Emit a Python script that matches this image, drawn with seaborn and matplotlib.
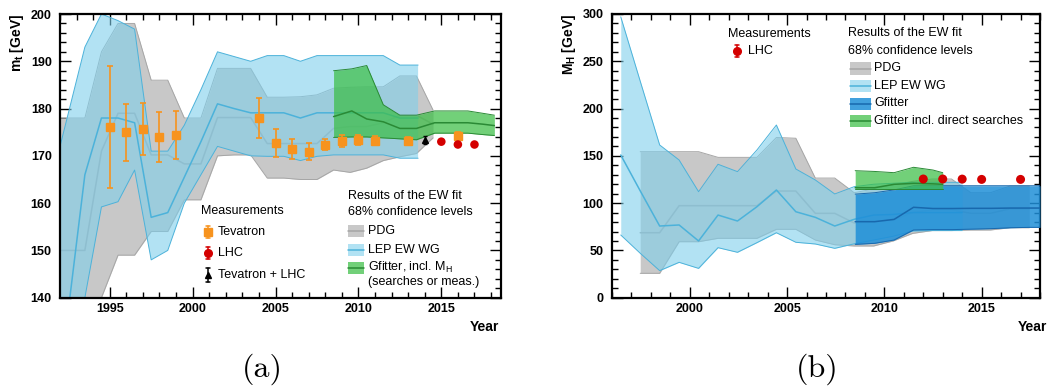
import matplotlib
matplotlib.use('Agg')
import matplotlib.pyplot as plt
from matplotlib.lines import Line2D
from matplotlib.patches import Rectangle
from matplotlib.ticker import MultipleLocator
import seaborn as sns

# ---------------- panel (a): top quark mass ----------------
pdg_t_year = [1992.0, 1993.5, 1994.5, 1995.5, 1996.5, 1997.5, 1998.5, 1999.5, 2000.5, 2001.5, 2002.5,
              2003.5, 2004.5, 2005.5, 2006.5, 2007.5, 2008.5, 2009.5, 2010.5, 2011.5, 2012.5, 2013.5, 2014.5]
pdg_t_hi = [178, 178, 192, 198, 198, 186, 186, 178, 178, 188.5, 188.5, 188.5, 182.4, 182.4, 182.5, 182.9,
            184.3, 184.5, 184.6, 184.6, 186.9, 186.9, 179.7]
pdg_t_mid = [150, 150, 171, 179, 179, 170.2, 170.2, 168.3, 168.3, 178.1, 178.1, 178.1, 172.6, 172.6, 172.6,
             172.6, 175.8, 176.2, 176.2, 177, 178.6, 178.6, 176.7]
pdg_t_lo = [120, 130, 140, 149, 149, 154, 154, 160.7, 160.7, 170, 170.2, 170.2, 165.3, 165.3, 165, 165,
            167, 166.5, 167.4, 169, 169.8, 170.5, 173.8]

lep_t_year = [1992.0, 1993.5, 1994.5, 1995.5, 1996.5, 1997.5, 1998.5, 1999.5, 2000.5, 2001.5, 2002.5,
              2003.5, 2004.5, 2005.5, 2006.5, 2007.5, 2008.5, 2009.5, 2010.5, 2011.5, 2012.5, 2013.6]
lep_t_hi = [172, 193, 200, 198.6, 196.8, 171, 171, 176.5, 184, 192, 191, 190, 191.2, 191.2, 190, 191.2,
            191.2, 191.2, 191.2, 191.2, 189.2, 189.2]
lep_t_mid = [123, 166, 178, 178, 177, 157, 158, 165.5, 173, 181, 180, 179.1, 179.1, 179.1, 178, 179.1,
             179.1, 179.1, 179.1, 179.1, 178, 178]
lep_t_lo = [110, 140, 159.2, 160.3, 167, 148, 150, 160, 166, 172, 171, 170, 169.9, 169.9, 169, 169.9,
            170.2, 170.2, 170.2, 170.2, 169.5, 169.5]

gf_t_year = [2008.5, 2009.6, 2010.5, 2011.5, 2012.5, 2013.5, 2014.6, 2015.6, 2016.6, 2017.5, 2018.2]
gf_t_hi = [188.0, 188.4, 189.1, 180.8, 178.6, 178.6, 179.5, 179.5, 179.5, 179.0, 178.6]
gf_t_mid = [178.3, 179.5, 177.8, 177.2, 175.8, 175.8, 177.0, 177.0, 177.0, 176.7, 176.4]
gf_t_lo = [173.9, 174.0, 174.0, 173.8, 173.6, 173.4, 174.8, 174.8, 174.8, 174.5, 174.3]

tev_year = [1995, 1996, 1997, 1998, 1999, 2004, 2005, 2006, 2007, 2008, 2009, 2010, 2011, 2013, 2016]
tev_mt = [176.0, 175.0, 175.6, 174.0, 174.4, 178.0, 172.7, 171.4, 170.9, 172.4, 173.1, 173.3, 173.2, 173.2, 174.3]
tev_err = [12.9, 6.0, 5.5, 5.2, 5.1, 4.3, 2.9, 2.1, 1.8, 1.2, 1.3, 1.1, 0.9, 0.87, 0.65]

lhc_t_year = [2015, 2016, 2017]
lhc_t_mt = [173.0, 172.4, 172.4]
lhc_t_err = [0.7, 0.5, 0.5]

comb_year = [2014]
comb_mt = [173.34]
comb_err = [0.76]

# ---------------- panel (b): Higgs mass ----------------
pdg_h_year = [1997.45, 1998.45, 1999.45, 2000.45, 2001.45, 2002.45, 2003.45, 2004.45, 2005.45, 2006.45,
              2007.45, 2008.45, 2009.45, 2010.45, 2011.45, 2012.45, 2013.45, 2014.45, 2015.45, 2016.45, 2017.45]
pdg_h_hi = [154.4, 154.4, 154.4, 154.4, 148.4, 148.4, 148.4, 169.4, 168.6, 126.5, 126.5, 111, 115, 119,
            123, 125.5, 125.5, 111, 111, 118, 118]
pdg_h_mid = [68.7, 68.7, 97.3, 97.3, 97.3, 97.3, 97.3, 112.8, 112.8, 89.2, 89.2, 79, 80, 82, 90, 93, 93,
             89.2, 89.2, 94, 94]
pdg_h_lo = [25.8, 25.8, 59.2, 59.2, 62.8, 62.8, 62.8, 72.3, 72.3, 61, 56, 54.7, 54.7, 60, 68, 71, 71,
            71.6, 71.6, 74, 74]

lep_h_year = [1996.45, 1997.45, 1998.45, 1999.45, 2000.45, 2001.45, 2002.45, 2003.45, 2004.45, 2005.45,
              2006.45, 2007.45, 2008.45, 2009.45, 2010.45, 2011.45, 2012.45, 2013.45, 2014.0]
lep_h_hi = [297, 229, 161.5, 145.6, 112.1, 141.1, 133.3, 156.2, 182.6, 136.1, 124.5, 109.7, 117.4, 120,
            121, 122, 122, 122, 122]
lep_h_mid = [150.9, 113, 75.8, 76.9, 60, 87.4, 81.1, 96.2, 113.9, 90.9, 85, 75.8, 82.9, 87.4, 88, 90,
             90, 90, 90]
lep_h_lo = [66.3, 47, 28.6, 37.4, 31, 52.9, 48, 58.2, 68.7, 58.6, 56.8, 52.2, 57, 61, 65, 70.5, 71, 71, 71]

gfit_h_year = [2008.5, 2009.5, 2010.5, 2011.5, 2012.5, 2013.5, 2014.5, 2015.5, 2016.5, 2017.5, 2018.0]
gfit_h_hi = [109.5, 111, 114, 118.4, 118.4, 118.4, 118.4, 118.4, 118.4, 118.4, 118.4]
gfit_h_mid = [80.4, 80.4, 82.8, 95.6, 94.3, 94.3, 94.5, 94.5, 94.8, 94.8, 94.8]
gfit_h_lo = [56.4, 57.5, 61, 71.6, 72, 72, 72.5, 73, 74, 74.4, 74.4]

srch_h_year = [2008.5, 2009.5, 2010.5, 2011.5, 2012.5, 2013.0]
srch_h_hi = [134.3, 133.5, 132.2, 137.9, 135.0, 132.2]
srch_h_mid = [116.3, 116.3, 119.9, 120.9, 120.4, 119.9]
srch_h_lo = [114.6, 114.6, 114.6, 114.6, 114.6, 114.6]

lhc_h_year = [2012, 2013, 2014, 2015, 2017]
lhc_h_mh = [125.5, 125.5, 125.4, 125.1, 125.1]

# colours
GRAY, GRAY_LN = '#c8c8c8', '#a6a6a6'
LEP, LEP_LN = '#7fcfeb', '#4cb2da'
GRN, GRN_LN = '#3cbe46', '#2a8a35'
GF, GF_LN = '#1f8fd8', '#1868ad'
ORANGE, RED = '#f7931e', '#d40000'

sns.set_theme(style="ticks")
plt.rcParams['font.family'] = ['Liberation Sans', 'DejaVu Sans']
plt.rcParams['mathtext.fontset'] = 'custom'
plt.rcParams['mathtext.rm'] = 'Liberation Sans'
plt.rcParams['mathtext.bf'] = 'Liberation Sans:bold'
plt.rcParams['mathtext.it'] = 'Liberation Sans:italic'
for key in ('text.color', 'axes.labelcolor', 'xtick.color', 'ytick.color',
            'xtick.labelcolor', 'ytick.labelcolor', 'axes.edgecolor'):
    plt.rcParams[key] = 'black'

W, H = 1049, 387
fig = plt.figure(figsize=(W / 100, H / 100), dpi=100)
ax1 = fig.add_axes([60 / W, 1 - 297.7 / H, 441 / W, 283.7 / H])
ax2 = fig.add_axes([612 / W, 1 - 297.7 / H, 428 / W, 283.7 / H])


def fx(px):
    return px / W


def fy(py):
    return 1 - py / H


def band(ax, x, lo, mid, hi, fill, alpha, edge, z):
    ax.fill_between(x, lo, hi, facecolor=fill, alpha=alpha, lw=0, zorder=z)
    for y in (lo, hi):
        sns.lineplot(x=x, y=y, ax=ax, color=edge, lw=0.7, estimator=None, sort=False,
                     zorder=z + 0.1, legend=False)
    sns.lineplot(x=x, y=mid, ax=ax, color=edge, lw=1.1, estimator=None, sort=False,
                 zorder=z + 0.2, legend=False)


# panel (a)
band(ax1, pdg_t_year, pdg_t_lo, pdg_t_mid, pdg_t_hi, GRAY, 1.0, GRAY_LN, 1)
band(ax1, lep_t_year, lep_t_lo, lep_t_mid, lep_t_hi, LEP, 0.6, LEP_LN, 2)
band(ax1, gf_t_year, gf_t_lo, gf_t_mid, gf_t_hi, GRN, 0.72, GRN_LN, 3)

ax1.errorbar(tev_year, tev_mt, yerr=tev_err, fmt='s', color=ORANGE, ms=5.5, capsize=2,
             elinewidth=1.2, capthick=1.2, zorder=6)
ax1.errorbar(lhc_t_year, lhc_t_mt, yerr=lhc_t_err, fmt='none', ecolor=RED, elinewidth=1.2, zorder=6)
sns.scatterplot(x=lhc_t_year, y=lhc_t_mt, ax=ax1, color=RED, s=38, edgecolor='none', zorder=7)
ax1.errorbar(comb_year, comb_mt, yerr=comb_err, fmt='^', color='black', ms=5, capsize=1.5,
             elinewidth=1.0, zorder=7)

# panel (b)
band(ax2, pdg_h_year, pdg_h_lo, pdg_h_mid, pdg_h_hi, GRAY, 1.0, GRAY_LN, 1)
band(ax2, lep_h_year, lep_h_lo, lep_h_mid, lep_h_hi, LEP, 0.6, LEP_LN, 2)
band(ax2, gfit_h_year, gfit_h_lo, gfit_h_mid, gfit_h_hi, GF, 0.85, GF_LN, 3)
band(ax2, srch_h_year, srch_h_lo, srch_h_mid, srch_h_hi, GRN, 0.72, GRN_LN, 4)
sns.scatterplot(x=lhc_h_year, y=lhc_h_mh, ax=ax2, color=RED, s=42, edgecolor='none', zorder=7)

# axes styling
ax1.set_xlim(1992.0, 2018.6)
ax1.set_ylim(140, 200)
ax2.set_xlim(1996.0, 2018.0)
ax2.set_ylim(0, 300)
ax1.yaxis.set_minor_locator(MultipleLocator(2))
ax2.yaxis.set_minor_locator(MultipleLocator(10))
ax1.set_xticks([1995, 2000, 2005, 2010, 2015])
ax1.set_xticklabels(['1995', '2000', '2005', '2010', '2015'], fontweight='bold')
ax1.set_yticks([140, 150, 160, 170, 180, 190, 200])
ax1.set_yticklabels(['140', '150', '160', '170', '180', '190', '200'], fontweight='bold')
ax2.set_xticks([2000, 2005, 2010, 2015])
ax2.set_xticklabels(['2000', '2005', '2010', '2015'], fontweight='bold')
ax2.set_yticks([0, 50, 100, 150, 200, 250, 300])
ax2.set_yticklabels(['0', '50', '100', '150', '200', '250', '300'], fontweight='bold')

for ax in (ax1, ax2):
    ax.xaxis.set_minor_locator(MultipleLocator(1))
    ax.tick_params(which='both', direction='in', top=True, right=True, labelsize=9,
                   width=1.0, color='black', labelcolor='black')
    ax.tick_params(which='major', length=8)
    ax.tick_params(which='minor', length=4)
    ax.tick_params(axis='y', pad=6)
    ax.tick_params(axis='x', pad=4)
    for s in ax.spines.values():
        s.set_linewidth(1.6)
        s.set_color('black')
    ax.set_xlabel('')

ax1.set_ylabel(r'$\mathbf{m_t}$ [GeV]', fontsize=10, fontweight='bold', loc='top')
ax1.yaxis.set_label_coords(-34 / 441, 1.0)
ax2.set_ylabel(r'$\mathbf{M_H}$ [GeV]', fontsize=10, fontweight='bold', loc='top')
ax2.yaxis.set_label_coords(-34 / 428, 1.0)

fig.text(fx(499), fy(327), 'Year', fontsize=10, fontweight='bold', ha='right', va='center')
fig.text(fx(1018), fy(327), 'Year', fontsize=10, fontweight='bold', ha='left', va='center')

fig.text(fx(262), fy(369), '(a)', fontfamily='cmr10', fontsize=23, ha='center', va='center')
fig.text(fx(817), fy(369), '(b)', fontfamily='cmr10', fontsize=23, ha='center', va='center')


# hand-placed legends (pixel positions)
def leg_text(px, py, s):
    fig.text(fx(px), fy(py), s, fontsize=9, ha='left', va='center')


def leg_marker(px, py, marker, color, ms, bar):
    x = fx(px)
    fig.add_artist(Line2D([x, x], [fy(py - bar), fy(py + bar)], color=color, lw=1.1))
    for yy in (py - bar, py + bar):
        fig.add_artist(Line2D([x - 2 / W, x + 2 / W], [fy(yy), fy(yy)], color=color, lw=1.1))
    fig.add_artist(Line2D([x], [fy(py)], marker=marker, color=color, ms=ms, ls='none'))


def leg_patch(px0, py0, px1, py1, fill, alpha, line):
    fig.add_artist(Rectangle((fx(px0), fy(py1)), (px1 - px0) / W, (py1 - py0) / H,
                             facecolor=fill, alpha=alpha, lw=0))
    fig.add_artist(Line2D([fx(px0), fx(px1)], [fy((py0 + py1) / 2)] * 2, color=line, lw=1.1))


leg_text(201, 211, 'Measurements')
leg_marker(208, 232, 's', ORANGE, 5.5, 6)
leg_text(218, 232, 'Tevatron')
leg_marker(208, 253, 'o', RED, 5.5, 6)
leg_text(218, 253, 'LHC')
leg_marker(208, 275, '^', 'black', 5, 7)
leg_text(218, 275, 'Tevatron + LHC')

leg_text(348, 196, 'Results of the EW fit')
leg_text(348, 212, '68% confidence levels')
leg_patch(348, 225, 364, 237, GRAY, 1.0, GRAY_LN)
leg_text(368, 231, 'PDG')
leg_patch(348, 244, 364, 256, LEP, 0.6, LEP_LN)
leg_text(368, 250, 'LEP EW WG')
leg_patch(348, 262, 364, 274, GRN, 0.72, GRN_LN)
leg_text(368, 267, r'Gfitter, incl. M$_{\mathregular{H}}$')
leg_text(368, 282, '(searches or meas.)')

leg_text(728, 34, 'Measurements')
leg_marker(737, 51, 'o', RED, 5.5, 6)
leg_text(748, 51, 'LHC')

leg_text(848, 33, 'Results of the EW fit')
leg_text(848, 51, '68% confidence levels')
leg_patch(850, 62, 871, 75, GRAY, 1.0, GRAY_LN)
leg_text(874, 68, 'PDG')
leg_patch(850, 80, 871, 92, LEP, 0.6, LEP_LN)
leg_text(874, 86, 'LEP EW WG')
leg_patch(850, 98, 871, 110, GF, 0.85, GF_LN)
leg_text(874, 103, 'Gfitter')
leg_patch(850, 115, 871, 127, GRN, 0.72, GRN_LN)
leg_text(874, 121, 'Gfitter incl. direct searches')

fig.savefig('out.png', dpi=100)
